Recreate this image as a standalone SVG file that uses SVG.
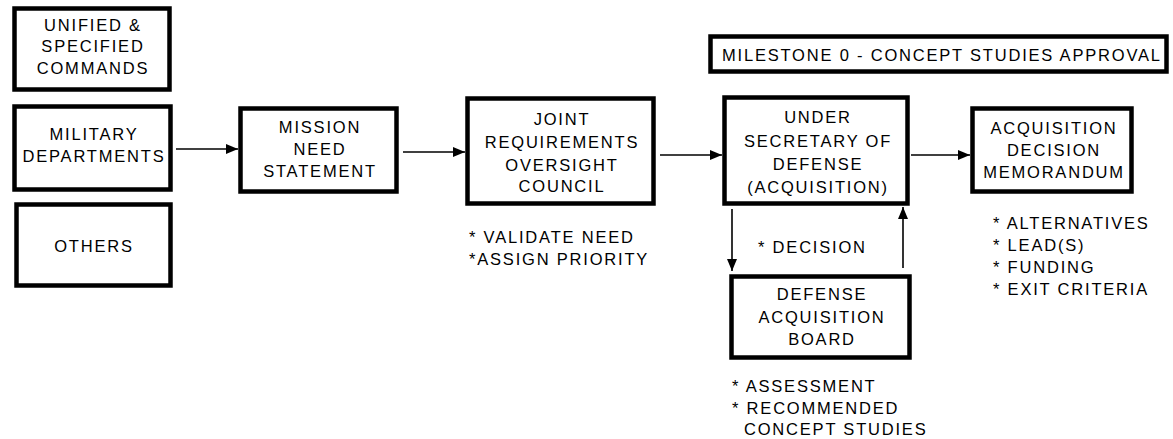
<svg xmlns="http://www.w3.org/2000/svg" width="1173" height="439" viewBox="0 0 1173 439">
<style>
.box{fill:#fff;stroke:#000;stroke-width:4.5}
text{font-family:"Liberation Sans",Arial,sans-serif;font-size:16.5px;fill:#000;letter-spacing:1.8px}
.c{text-anchor:middle}
.ln{stroke:#000;stroke-width:1.6;fill:none}
</style>
<defs>
<marker id="ah" viewBox="0 0 12 10" refX="12" refY="5" markerWidth="12" markerHeight="10" markerUnits="userSpaceOnUse" orient="auto">
<path d="M0,0 L12,5 L0,10 z" fill="#000"/>
</marker>
</defs>
<g id="unified"><rect class="box" x="14.5" y="8.5" width="155" height="81"/>
<text class="c" x="93" y="31">UNIFIED &amp;</text><text class="c" x="93" y="52">SPECIFIED</text><text class="c" x="93" y="74">COMMANDS</text></g>
<g id="military"><rect class="box" x="14.5" y="106.5" width="156" height="83"/>
<text class="c" x="94" y="140">MILITARY</text><text class="c" x="94" y="162">DEPARTMENTS</text></g>
<g id="others"><rect class="box" x="16.5" y="204.5" width="154" height="81"/>
<text class="c" x="94" y="252">OTHERS</text></g>
<g id="mns"><rect class="box" x="240.5" y="108.5" width="156" height="83"/>
<text class="c" x="320" y="133">MISSION</text><text class="c" x="320" y="155">NEED</text><text class="c" x="320" y="177">STATEMENT</text></g>
<g id="jroc"><rect class="box" x="467.5" y="98.5" width="186" height="105"/>
<text class="c" x="562" y="125">JOINT</text><text class="c" x="562" y="148">REQUIREMENTS</text><text class="c" x="562" y="171">OVERSIGHT</text><text class="c" x="562" y="192">COUNCIL</text>
<text x="469" y="243">* VALIDATE NEED</text><text x="469" y="265">*ASSIGN PRIORITY</text></g>
<g id="milestone"><rect class="box" x="710.5" y="36.5" width="456" height="35"/>
<text x="722" y="61">MILESTONE 0 - CONCEPT STUDIES APPROVAL</text></g>
<g id="usd"><rect class="box" x="724.5" y="97.5" width="183" height="106"/>
<text class="c" x="818" y="123">UNDER</text><text class="c" x="818" y="147">SECRETARY OF</text><text class="c" x="818" y="170">DEFENSE</text><text class="c" x="818" y="193">(ACQUISITION)</text></g>
<g id="adm"><rect class="box" x="972.5" y="108.5" width="159" height="83"/>
<text class="c" x="1054" y="134">ACQUISITION</text><text class="c" x="1054" y="156">DECISION</text><text class="c" x="1054" y="178">MEMORANDUM</text>
<text x="993" y="229">* ALTERNATIVES</text><text x="993" y="251">* LEAD(S)</text><text x="993" y="273">* FUNDING</text><text x="993" y="295">* EXIT CRITERIA</text></g>
<g id="dab"><rect class="box" x="731.5" y="276.5" width="178" height="81"/>
<text class="c" x="822" y="300">DEFENSE</text><text class="c" x="822" y="323">ACQUISITION</text><text class="c" x="822" y="345">BOARD</text>
<text x="732" y="392">* ASSESSMENT</text><text x="732" y="414">* RECOMMENDED</text><text x="744" y="435">CONCEPT STUDIES</text></g>
<g id="connectors">
<line class="ln" x1="176" y1="149" x2="238" y2="149" marker-end="url(#ah)"/>
<line class="ln" x1="403" y1="152" x2="465" y2="152" marker-end="url(#ah)"/>
<line class="ln" x1="660" y1="155" x2="722" y2="155" marker-end="url(#ah)"/>
<line class="ln" x1="911" y1="155" x2="970" y2="155" marker-end="url(#ah)"/>
<line class="ln" x1="732" y1="209" x2="732" y2="271" marker-end="url(#ah)"/>
<line class="ln" x1="903" y1="268" x2="903" y2="207" marker-end="url(#ah)"/>
<text x="758" y="253">* DECISION</text>
</g>
</svg>
